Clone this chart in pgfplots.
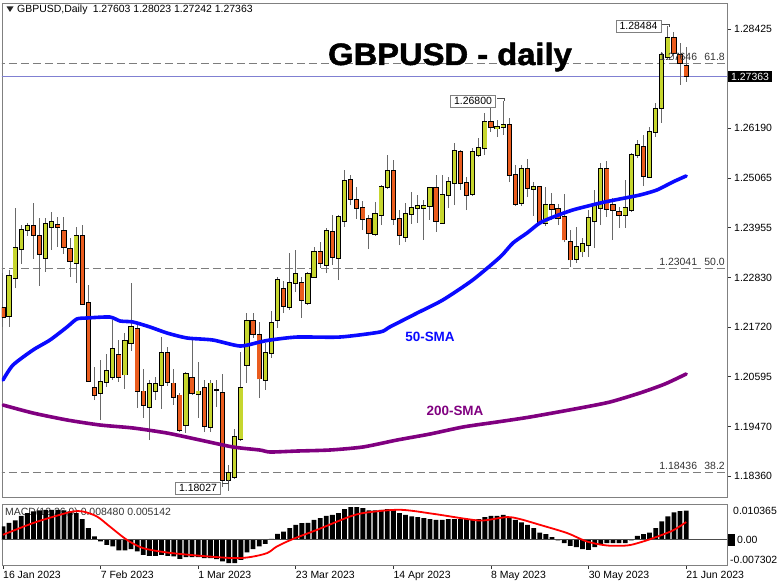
\documentclass[border=0pt]{standalone}
\usepackage{fontspec}
\setmainfont{Liberation Sans}
\newfontfamily\titlefont[BoldFeatures={FakeBold=1.6}]{Liberation Sans}
\usepackage{pgfplots}
\usepackage{pgfplotstable}
\pgfplotsset{compat=1.18}
\definecolor{bullc}{RGB}{198,214,46}
\definecolor{bearc}{RGB}{234,92,30}
\definecolor{wick}{RGB}{105,105,105}
\definecolor{frame}{RGB}{128,128,128}
\definecolor{pline}{RGB}{128,128,210}
\definecolor{smapurple}{RGB}{128,0,128}
\definecolor{smablue}{RGB}{10,10,255}
\definecolor{lvl}{RGB}{125,125,125}

\pgfplotstableread{
i o h l c
1 1.2196 1.2300 1.2172 1.2287
2 1.2282 1.2440 1.2259 1.2350
3 1.2347 1.2401 1.2314 1.2390
4 1.2390 1.2406 1.2377 1.2399
7 1.2327 1.2417 1.2296 1.2404
8 1.2397 1.2431 1.2345 1.2408
12 1.2316 1.2397 1.2271 1.2377
16 1.2023 1.2097 1.1962 1.2048
17 1.2048 1.2111 1.2036 1.2073
18 1.2059 1.2187 1.2052 1.2122
20 1.2064 1.2158 1.2032 1.2140
21 1.2136 1.2271 1.2118 1.2172
24 1.1991 1.2052 1.1917 1.2043
25 1.2027 1.2059 1.2007 1.2043
26 1.2041 1.2149 1.1987 1.2113
30 1.1951 1.2070 1.1933 1.2066
32 1.2021 1.2093 1.1967 1.2027
34 1.1946 1.2052 1.1935 1.2045
37 1.1827 1.1861 1.18027 1.1843
38 1.1834 1.1942 1.1829 1.1924
39 1.1919 1.2115 1.1915 1.2034
40 1.2086 1.2203 1.2045 1.2185
43 1.2052 1.2136 1.2030 1.2113
44 1.2113 1.2208 1.2102 1.2181
45 1.2187 1.2284 1.2169 1.2277
47 1.2217 1.2338 1.2210 1.2271
48 1.2271 1.2345 1.2250 1.2291
50 1.2226 1.2296 1.2221 1.2291
51 1.2284 1.2352 1.2282 1.2341
53 1.2311 1.2395 1.2293 1.2388
55 1.2327 1.2424 1.2277 1.2419
56 1.2410 1.2525 1.2397 1.2500
61 1.2381 1.2453 1.2377 1.2426
62 1.2424 1.2491 1.2401 1.2487
63 1.2487 1.2559 1.2482 1.2523
66 1.2374 1.2451 1.2363 1.2426
67 1.2426 1.2476 1.2404 1.2440
68 1.2440 1.2469 1.2406 1.2444
69 1.2440 1.2458 1.2368 1.2444
70 1.2444 1.2487 1.2413 1.2485
72 1.2406 1.2514 1.2404 1.2469
73 1.2469 1.2509 1.2440 1.2498
74 1.2496 1.2586 1.2446 1.2568
77 1.2471 1.2575 1.2467 1.2566
78 1.2559 1.2597 1.2554 1.2575
79 1.2575 1.2654 1.2559 1.2633
81 1.2618 1.2638 1.2599 1.2622
82 1.2622 1.2680 1.2604 1.2627
85 1.2451 1.2536 1.2444 1.2527
87 1.2482 1.2498 1.2422 1.2487
89 1.2406 1.2487 1.2399 1.2446
94 1.2325 1.2397 1.2316 1.2352
95 1.2341 1.2372 1.2329 1.2359
96 1.2356 1.2435 1.2329 1.2417
97 1.2410 1.2480 1.2350 1.2444
98 1.2440 1.2541 1.2401 1.2527
102 1.2424 1.2503 1.2395 1.2440
103 1.2435 1.2563 1.2431 1.2559
104 1.2559 1.2593 1.2552 1.2581
106 1.2509 1.2622 1.2507 1.2611
107 1.2611 1.2676 1.2599 1.2663
108 1.2665 1.2791 1.2631 1.2784
109 1.2780 1.28484 1.2773 1.2822
}\bull

\pgfplotstableread{
i o h l c
0 1.2214 1.2293 1.2172 1.2194
5 1.2399 1.2451 1.2325 1.2379
6 1.2377 1.2417 1.2264 1.2336
9 1.2401 1.2419 1.2352 1.2397
10 1.2388 1.2419 1.2336 1.2352
11 1.2347 1.2372 1.2284 1.2320
13 1.2377 1.2401 1.2221 1.2223
14 1.2226 1.2266 1.2048 1.2050
15 1.2034 1.2082 1.2007 1.2018
19 1.2109 1.2142 1.2048 1.2059
22 1.2167 1.2176 1.1989 1.2027
23 1.2027 1.2077 1.1967 1.1996
27 1.2113 1.2127 1.2039 1.2048
28 1.2045 1.2077 1.1996 1.2014
29 1.2018 1.2023 1.1935 1.1940
31 1.2057 1.2142 1.2018 1.2023
33 1.2034 1.2052 1.1935 1.1949
35 1.2030 1.2052 1.1991 1.2030
36 1.2023 1.2066 1.1811 1.1827
41 1.2185 1.2203 1.2147 1.2156
42 1.2154 1.2183 1.2012 1.2055
46 1.2257 1.2275 1.2203 1.2219
49 1.2271 1.2284 1.2192 1.2232
52 1.2341 1.2363 1.2305 1.2316
54 1.2386 1.2424 1.2311 1.2329
57 1.2503 1.2514 1.2446 1.2460
58 1.2458 1.2487 1.2415 1.2440
59 1.2440 1.2455 1.2390 1.2415
60 1.2415 1.2424 1.2347 1.2383
64 1.2523 1.2548 1.2401 1.2415
65 1.2415 1.2435 1.2356 1.2379
71 1.2485 1.2514 1.2386 1.2410
75 1.2566 1.2570 1.2480 1.2496
76 1.2496 1.2509 1.2435 1.2469
80 1.2633 1.2665 1.2611 1.2622
83 1.2627 1.2642 1.2498 1.2514
84 1.2514 1.2536 1.2444 1.2449
86 1.2527 1.2550 1.2464 1.2485
88 1.2487 1.2489 1.2404 1.2408
90 1.2446 1.2473 1.2413 1.2437
91 1.2437 1.2449 1.2401 1.2417
92 1.2419 1.2471 1.2363 1.2368
93 1.2363 1.2390 1.2307 1.2323
99 1.2527 1.2545 1.2419 1.2437
100 1.2446 1.2462 1.2368 1.2435
101 1.2431 1.2442 1.2395 1.2424
105 1.2577 1.2604 1.2489 1.2512
110 1.2822 1.2836 1.2775 1.2788
111 1.2784 1.2811 1.2717 1.2766
112 1.27603 1.28023 1.27242 1.27363
}\bear

\pgfplotstableread{
i p
0 1.20522
1.64 1.20860
4.92 1.21198
7.7 1.21423
10.5 1.21716
12.1 1.21896
13.8 1.21919
17.5 1.21941
19.2 1.21851
21.3 1.21829
24.1 1.21716
26.9 1.21580
30.2 1.21468
34.4 1.21423
38.85 1.21288
42.1 1.21378
43.8 1.21423
48.2 1.21490
55.2 1.21490
61.8 1.21603
63.4 1.21716
67.9 1.22031
72.1 1.22324
77 1.22774
81.5 1.23292
83.6 1.23608
85.9 1.23832
88 1.24058
90.2 1.24193
93.4 1.24351
97.9 1.24508
101.1 1.24598
104.4 1.24688
107.2 1.24801
109.8 1.24981
112 1.25117
}\smafifty

\pgfplotstableread{
i p
0 1.19959
4.92 1.19779
10.5 1.19622
15.9 1.19509
21.3 1.19442
26.9 1.19328
32.3 1.19171
37.7 1.19014
42.1 1.18946
43.8 1.18901
48.2 1.18923
53.6 1.18946
59 1.19014
64.6 1.19171
70 1.19306
75.4 1.19464
81 1.19577
86.4 1.19689
94.6 1.19892
99.5 1.20027
104.4 1.20229
108.5 1.20432
112 1.20658
}\smatwohundred

\pgfplotstableread{
i m
0 0.00385
1 0.00492
2 0.00559
3 0.00695
4 0.00773
5 0.00820
6 0.00849
7 0.00869
8 0.00869
9 0.00869
10 0.00849
11 0.00820
12 0.00773
13 0.00600
14 0.00339
15 0.00096
16 -0.00049
17 -0.00145
18 -0.00194
19 -0.00310
20 -0.00310
21 -0.00269
22 -0.00339
23 -0.00434
24 -0.00463
25 -0.00463
26 -0.00434
27 -0.00463
28 -0.00484
29 -0.00550
30 -0.00501
31 -0.00501
32 -0.00501
33 -0.00530
34 -0.00530
35 -0.00559
36 -0.00628
37 -0.00675
38 -0.00675
39 -0.00579
40 -0.00368
41 -0.00269
42 -0.00194
43 -0.00116
44 0.00029
45 0.00174
46 0.00240
47 0.00339
48 0.00434
49 0.00484
50 0.00492
51 0.00579
52 0.00628
53 0.00695
54 0.00724
55 0.00773
56 0.00889
57 0.00947
58 0.00947
59 0.00918
60 0.00849
61 0.00849
62 0.00869
63 0.00889
64 0.00869
65 0.00773
66 0.00724
67 0.00675
68 0.00657
69 0.00628
70 0.00600
71 0.00579
72 0.00579
73 0.00600
74 0.00600
75 0.00600
76 0.00600
77 0.00600
78 0.00600
79 0.00657
80 0.00695
81 0.00695
82 0.00724
83 0.00657
84 0.00579
85 0.00501
86 0.00434
87 0.00339
88 0.00211
89 0.00165
90 0.00078
91 -0.00020
92 -0.00096
93 -0.00174
94 -0.00211
95 -0.00269
96 -0.00290
97 -0.00211
98 -0.00116
99 -0.00096
100 -0.00096
101 -0.00096
102 -0.00096
103 -0.00014
104 0.00116
105 0.00165
106 0.00211
107 0.00339
108 0.00530
109 0.00675
110 0.00791
111 0.00830
112 0.00848
}\macd

\pgfplotstableread{
i s
0 0.00145
4.92 0.00484
9.34 0.00724
11.5 0.00820
13.1 0.00820
15.4 0.00675
17.5 0.00385
20.3 0.00000
22.95 -0.00240
26.9 -0.00368
32.3 -0.00463
37.7 -0.00530
40.5 -0.00501
43.3 -0.00385
44.9 -0.00194
47.5 0.00020
51.5 0.00290
56.9 0.00675
59.7 0.00791
65.1 0.00869
70.5 0.00753
76.1 0.00600
78.7 0.00559
82.6 0.00657
84.75 0.00600
88 0.00434
92.5 0.00194
95.7 -0.00049
99 -0.00165
102.3 -0.00165
104.4 -0.00078
106.6 0.00049
109.8 0.00269
112 0.00514
}\sig

\newcommand{\lf}{\fontsize{10.5}{12}\selectfont}

\begin{document}
\begin{tikzpicture}
\path (0,0) rectangle (782bp,587bp);
% header
\fill[black!85] (6.5bp,580.5bp) -- (13.5bp,580.5bp) -- (10bp,575bp) -- cycle;
\node[anchor=west, inner sep=0pt, font=\lf] at (17bp,577bp) {GBPUSD,Daily\enspace 1.27603 1.28023 1.27242 1.27363};
% MACD caption (below the bars)
\node[anchor=west, inner sep=0pt, font=\lf, text=black!80] at (5bp,74bp) {MACD(12,26,9) 0.008480 0.005142};

\begin{axis}[
  at={(2bp,90bp)}, anchor=south west, scale only axis,
  width=725bp, height=494bp,
  xmin=-0.164, xmax=118.69, ymin=1.17888, ymax=1.29012,
  axis line style={frame, line width=0.8bp},
  xtick=\empty,
  ytick={1.18360,1.19470,1.20595,1.21720,1.22830,1.23955,1.25065,1.26190,1.28425},
  yticklabels={1.18360,1.19470,1.20595,1.21720,1.22830,1.23955,1.25065,1.26190,1.28425},
  ytick pos=right, yticklabel pos=right,
  tick align=outside, major tick length=4bp,
  tick style={black!80, line width=0.6bp},
  yticklabel style={font=\lf, anchor=west, inner sep=0pt, xshift=3bp},
  clip=true]
% levels
\addplot[lvl, line width=0.9bp, dash pattern=on 8bp off 4bp] coordinates {(-1,1.27646) (120,1.27646)};
\addplot[lvl, line width=0.9bp, dash pattern=on 8bp off 4bp] coordinates {(-1,1.23041) (120,1.23041)};
\addplot[lvl, line width=0.9bp, dash pattern=on 8bp off 4bp] coordinates {(-1,1.18436) (120,1.18436)};
\addplot[pline, line width=1bp] coordinates {(-1,1.27363) (120,1.27363)};
% wicks
\addplot[draw=none, mark=none, error bars/.cd, y dir=plus, y explicit, error mark=none,
  error bar style={draw=wick, line width=1bp}] table[x=i, y=l, y error expr=\thisrow{h}-\thisrow{l}] {\bull};
\addplot[draw=none, mark=none, error bars/.cd, y dir=plus, y explicit, error mark=none,
  error bar style={draw=wick, line width=1bp}] table[x=i, y=l, y error expr=\thisrow{h}-\thisrow{l}] {\bear};
% bodies
\addplot[draw=none, mark=none, error bars/.cd, y dir=plus, y explicit, error mark=none,
  error bar style={draw=black, line width=5.2bp, shorten <=-0.7bp, shorten >=-0.7bp}] table[x=i, y=o, y error expr=\thisrow{c}-\thisrow{o}] {\bull};
\addplot[draw=none, mark=none, error bars/.cd, y dir=plus, y explicit, error mark=none,
  error bar style={draw=bullc, line width=3.4bp}] table[x=i, y=o, y error expr=\thisrow{c}-\thisrow{o}] {\bull};
\addplot[draw=none, mark=none, error bars/.cd, y dir=plus, y explicit, error mark=none,
  error bar style={draw=black, line width=5.2bp, shorten <=-0.7bp, shorten >=-0.7bp}] table[x=i, y=c, y error expr=\thisrow{o}-\thisrow{c}] {\bear};
\addplot[draw=none, mark=none, error bars/.cd, y dir=plus, y explicit, error mark=none,
  error bar style={draw=bearc, line width=3.4bp}] table[x=i, y=c, y error expr=\thisrow{o}-\thisrow{c}] {\bear};
% moving averages
\addplot[smablue, line width=3.6bp, line join=round, line cap=round, smooth, tension=0.4] table[x=i, y=p] {\smafifty};
\addplot[smapurple, line width=3.6bp, line join=round, line cap=round, smooth, tension=0.4] table[x=i, y=p] {\smatwohundred};
\end{axis}

\begin{axis}[
  at={(2bp,22bp)}, anchor=south west, scale only axis,
  width=725bp, height=61bp,
  xmin=-0.164, xmax=118.69, ymin=-0.007302, ymax=0.010365,
  axis line style={frame, line width=0.8bp},
  ytick=\empty,
  xtick={0,16,32,48,64,80,96,112},
  xticklabels={16 Jan 2023,7 Feb 2023,1 Mar 2023,23 Mar 2023,14 Apr 2023,8 May 2023,30 May 2023,21 Jun 2023},
  xtick pos=bottom, tick align=outside, major tick length=4bp,
  tick style={black!80, line width=0.6bp},
  xticklabel style={font=\lf, anchor=north west, inner sep=0pt, yshift=-2bp},
  clip=true]
\addplot[ybar, bar width=4.8bp, fill=black, draw=none] table[x=i, y=m] {\macd};
\addplot[black!70, line width=0.8bp] coordinates {(-1,0) (120,0)};
\addplot[red, line width=1.8bp, smooth, tension=0.5] table[x=i, y=s] {\sig};
\end{axis}

% level labels
\node[anchor=base east, inner sep=0pt, font=\lf, text=black!80] at (725bp,526bp) {1.27646\hspace{0.7em}61.8};
\node[anchor=base east, inner sep=0pt, font=\lf, text=black!80] at (725bp,321bp) {1.23041\hspace{0.7em}50.0};
\node[anchor=base east, inner sep=0pt, font=\lf, text=black!80] at (725bp,117bp) {1.18436\hspace{0.7em}38.2};
% price tag
\node[fill=black, text=white, anchor=west, inner xsep=3bp, inner ysep=2bp, font=\lf] at (728bp,510.5bp) {1.27363};
% MACD scale labels
\node[anchor=west, inner sep=0pt, font=\lf] at (733bp,76bp) {0.010365};
\fill[black] (728bp,41bp) rectangle (735bp,53bp);
\node[anchor=west, inner sep=0pt, font=\lf] at (737bp,47bp) {0.00};
\node[anchor=west, inner sep=0pt, font=\lf] at (730bp,27bp) {-0.007302};
% high/low annotations
\node[draw=frame, fill=white, inner xsep=3.5bp, inner ysep=2.5bp, font=\lf] at (638.5bp,561bp) {1.28484};
\draw[black!70, line width=0.8bp] (662bp,563bp) -- (669bp,563bp) -- (669bp,560bp);
\node[draw=frame, fill=white, inner xsep=3.5bp, inner ysep=2.5bp, font=\lf] at (473bp,486bp) {1.26800};
\draw[black!70, line width=0.8bp] (497bp,489bp) -- (504bp,489bp) -- (504bp,486bp);
\node[draw=frame, fill=white, inner xsep=3.5bp, inner ysep=2.5bp, font=\lf] at (198bp,99bp) {1.18027};
\draw[black!70, line width=0.8bp] (221.5bp,104bp) -- (228.7bp,104bp) -- (228.7bp,107bp);
% indicator labels
\node[font=\fontsize{13.5}{14}\selectfont\bfseries, text=smablue] at (430bp,250bp) {50-SMA};
\node[font=\fontsize{13.5}{14}\selectfont\bfseries, text=smapurple] at (455bp,176bp) {200-SMA};
% title
\node[anchor=base, inner sep=0pt, xscale=1.06, font=\titlefont\fontsize{31}{32}\selectfont\bfseries] at (450bp,522bp) {GBPUSD - daily};
\pgfresetboundingbox
\useasboundingbox (0,0) rectangle (782bp,587bp);
\end{tikzpicture}
\end{document}
